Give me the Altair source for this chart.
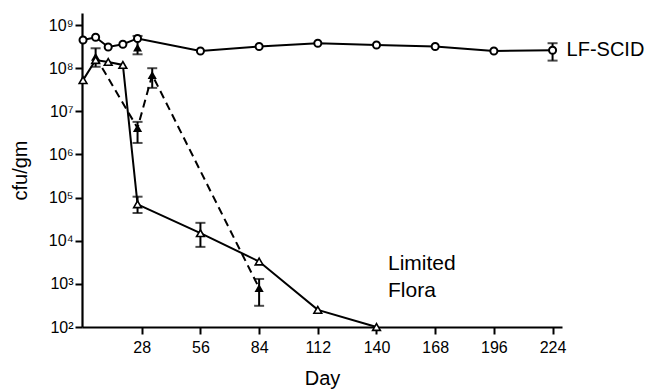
import altair as alt
import pandas as pd

# LF-SCID (open circles)
scid_day = [0, 6, 12, 19, 26, 56, 84, 112, 140, 168, 196, 224]
scid_val = [4.5e8, 5.2e8, 3.1e8, 3.6e8, 4.9e8, 2.5e8, 3.2e8, 3.8e8, 3.45e8, 3.2e8, 2.5e8, 2.6e8]

# Limited Flora (open triangles, solid line)
lf_day = [0, 6, 12, 19, 26, 56, 84, 112, 140]
lf_val = [5.3e7, 1.55e8, 1.4e8, 1.19e8, 7.0e4, 1.5e4, 3.3e3, 2.5e2, 1.0e2]

# Limited Flora (filled triangles, dashed line)
lfd_day = [6, 26, 33, 84]
lfd_val = [1.85e8, 4.1e6, 7.0e7, 8.0e2]

# error bars (day, low, high)
err_day = [26, 224, 26, 56, 6, 26, 33, 84]
err_lo = [2.1e8, 1.5e8, 4.4e4, 7.2e3, 1.08e8, 1.85e6, 3.5e7, 3.1e2]
err_hi = [5.6e8, 3.8e8, 1.05e5, 2.6e4, 2.9e8, 5.7e6, 1.0e8, 1.3e3]

# extra filled marker under the day-26 circle
extra_day = [26]
extra_val = [3.0e8]

# labels
lab_text = ["LF-SCID", "Limited", "Flora"]
lab_day = [224, 145.5, 145.5]
lab_val = [2.6e8, 2.9e3, 6.8e2]

x_ticks = [28, 56, 84, 112, 140, 168, 196, 224]
y_ticks = [1e2, 1e3, 1e4, 1e5, 1e6, 1e7, 1e8, 1e9]

FONT = "Liberation Sans"

scid = pd.DataFrame({"day": scid_day, "val": scid_val})
lf = pd.DataFrame({"day": lf_day, "val": lf_val})
lfd = pd.DataFrame({"day": lfd_day, "val": lfd_val})
err = pd.DataFrame({"day": err_day, "lo": err_lo, "hi": err_hi})
extra = pd.DataFrame({"day": extra_day, "val": extra_val})
labs = pd.DataFrame({"text": lab_text, "day": lab_day, "val": lab_val})

xs = alt.Scale(domain=[-0.5, 228.5], nice=False, zero=False)
ys = alt.Scale(type="log", domain=[1e2, 10 ** 9.28], nice=False)

X = alt.X("day:Q", scale=xs, axis=alt.Axis(
    values=x_ticks, title="Day", grid=False, domainColor="black", domainWidth=2.2,
    tickColor="black", tickWidth=2, tickSize=7, labelPadding=5,
    labelFont=FONT, labelFontSize=16, labelColor="black",
    titleFont=FONT, titleFontSize=20, titleFontWeight="normal", titleColor="black",
    titlePadding=13))
Y = alt.Y("val:Q", scale=ys, axis=alt.Axis(
    values=y_ticks, title="cfu/gm", grid=False, domainColor="black", domainWidth=2.2,
    tickColor="black", tickWidth=2, tickSize=7, labelPadding=2,
    labelExpr="'10' + substring('⁰¹²³⁴⁵⁶⁷⁸⁹', round(log(datum.value)/LN10), round(log(datum.value)/LN10)+1)",
    labelFont=FONT, labelFontSize=16, labelColor="black",
    titleFont=FONT, titleFontSize=20, titleFontWeight="normal", titleColor="black",
    titlePadding=18))

base_x = alt.X("day:Q", scale=xs)
base_y = alt.Y("val:Q", scale=ys)

line_scid = alt.Chart(scid).mark_line(color="black", strokeWidth=2).encode(x=X, y=Y)
line_lf = alt.Chart(lf).mark_line(color="black", strokeWidth=2).encode(x=base_x, y=base_y)
line_lfd = alt.Chart(lfd).mark_line(color="black", strokeWidth=2, strokeDash=[8, 5]).encode(x=base_x, y=base_y)

err_rule = alt.Chart(err).mark_rule(color="black", strokeWidth=2).encode(
    x=base_x, y=alt.Y("lo:Q", scale=ys), y2="hi:Q")
err_lo_tick = alt.Chart(err).mark_tick(color="black", orient="horizontal", size=10, thickness=2).encode(
    x=base_x, y=alt.Y("lo:Q", scale=ys))
err_hi_tick = alt.Chart(err).mark_tick(color="black", orient="horizontal", size=10, thickness=2).encode(
    x=base_x, y=alt.Y("hi:Q", scale=ys))

extra_pt = alt.Chart(extra).mark_point(shape="triangle-up", filled=True, color="black", size=80, opacity=1).encode(
    x=base_x, y=base_y)

pts_lfd = alt.Chart(lfd).mark_point(shape="triangle-up", filled=True, color="black", size=85, opacity=1).encode(
    x=base_x, y=base_y)
pts_lf = alt.Chart(lf).mark_point(shape="triangle-up", filled=True, fill="white", stroke="black",
                                  strokeWidth=1.6, size=60, opacity=1).encode(x=base_x, y=base_y)
pts_scid = alt.Chart(scid).mark_point(shape="circle", filled=True, fill="white", stroke="black",
                                      strokeWidth=2, size=50, opacity=1).encode(x=base_x, y=base_y)

text_scid = alt.Chart(labs[labs.text == "LF-SCID"]).mark_text(
    align="left", baseline="middle", font=FONT, fontSize=20, color="black", dx=14).encode(
    x=base_x, y=base_y, text="text:N")
text_lf = alt.Chart(labs[labs.text != "LF-SCID"]).mark_text(
    align="left", baseline="middle", font=FONT, fontSize=21, color="black").encode(
    x=base_x, y=base_y, text="text:N")

chart = alt.layer(
    line_scid, line_lf, line_lfd, err_rule, err_lo_tick, err_hi_tick,
    extra_pt, pts_lfd, pts_lf, pts_scid, text_scid, text_lf
).properties(
    width=480, height=314, autosize="none", background="white",
    padding={"left": 74, "top": 5, "right": 85, "bottom": 62},
).configure_view(stroke=None)

chart.save("out.html", embed_options={"renderer": "svg", "actions": False})
